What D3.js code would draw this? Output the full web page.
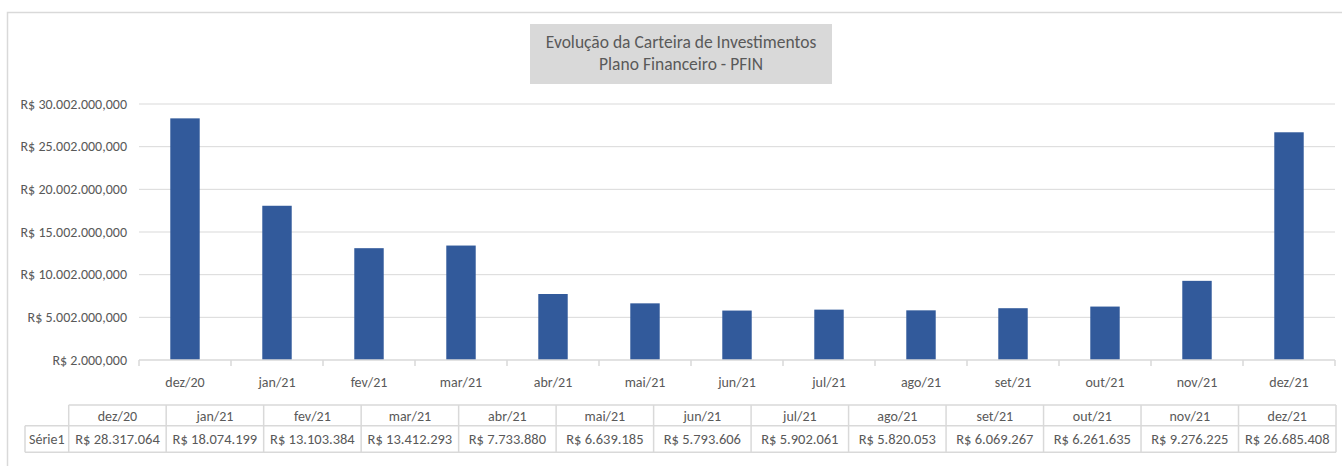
<!DOCTYPE html>
<html>
<head>
<meta charset="utf-8">
<style>
  body { margin: 0; background: #fff; }
  svg text { font-family: Carlito, "Liberation Sans Narrow", Lato, sans-serif; fill: #595959; }
</style>
</head>
<body>
<svg id="chart" width="1342" height="466"></svg>
<script src="https://cdn.jsdelivr.net/npm/d3@7/dist/d3.min.js"></script>
<script>
  // data
  var months = ["dez/20", "jan/21", "fev/21", "mar/21", "abr/21", "mai/21", "jun/21",
    "jul/21", "ago/21", "set/21", "out/21", "nov/21", "dez/21"];
  var values = [28317064, 18074199, 13103384, 13412293, 7733880, 6639185, 5793606,
    5902061, 5820053, 6069267, 6261635, 9276225, 26685408];
  var valueLabels = ["R$ 28.317.064", "R$ 18.074.199", "R$ 13.103.384", "R$ 13.412.293",
    "R$ 7.733.880", "R$ 6.639.185", "R$ 5.793.606", "R$ 5.902.061", "R$ 5.820.053",
    "R$ 6.069.267", "R$ 6.261.635", "R$ 9.276.225", "R$ 26.685.408"];
  var yTicks = [0, 5000000, 10000000, 15000000, 20000000, 25000000, 30000000];
  var yTickLabels = ["R$ 2.000,000", "R$ 5.002.000,000", "R$ 10.002.000,000", "R$ 15.002.000,000",
    "R$ 20.002.000,000", "R$ 25.002.000,000", "R$ 30.002.000,000"];
  var seriesName = "Série1";
  var titleLines = ["Evolução da Carteira de Investimentos", "Plano Financeiro - PFIN"];

  var svg = d3.select("#chart");
  var plot = { left: 139, right: 1335, top: 104, bottom: 360 };

  // chart frame (only top/left edges visible in the picture)
  svg.append("rect")
    .attr("x", 7.5).attr("y", 12.5)
    .attr("width", 1400).attr("height", 470)
    .attr("fill", "none").attr("stroke", "#d9d9d9").attr("stroke-width", 1.5);

  // title box
  svg.append("rect")
    .attr("x", 530).attr("y", 24).attr("width", 302).attr("height", 60)
    .attr("fill", "#d9d9d9");
  svg.selectAll(".title").data(titleLines).enter().append("text")
    .attr("class", "title")
    .attr("x", 681).attr("y", function(d, i) { return 48 + i * 21.5; })
    .attr("text-anchor", "middle")
    .style("font-size", "17.5px")
    .text(function(d) { return d; });

  var x = d3.scaleBand().domain(months)
    .range([plot.left, plot.right]).paddingInner(0.68).paddingOuter(0.34);
  var y = d3.scaleLinear().domain([0, 30000000]).range([plot.bottom, plot.top]);

  // gridlines
  svg.append("g").selectAll("line").data(yTicks.slice(1)).enter().append("line")
    .attr("x1", plot.left).attr("x2", plot.right)
    .attr("y1", function(d) { return y(d); }).attr("y2", function(d) { return y(d); })
    .attr("stroke", "#d9d9d9").attr("stroke-width", 1);

  // y labels
  svg.append("g").selectAll("text").data(yTicks).enter().append("text")
    .attr("x", 127).attr("y", function(d) { return y(d) + 4.5; })
    .attr("text-anchor", "end")
    .style("font-size", "14px")
    .text(function(d, i) { return yTickLabels[i]; });

  // bars
  svg.append("g").selectAll("rect").data(values).enter().append("rect")
    .attr("x", function(d, i) { return x(months[i]); })
    .attr("y", function(d) { return y(d); })
    .attr("width", x.bandwidth())
    .attr("height", function(d) { return y(0) - y(d); })
    .attr("fill", "#325a9b");

  // x axis line and ticks
  var step = x.step();
  svg.append("line")
    .attr("x1", plot.left).attr("x2", plot.right)
    .attr("y1", plot.bottom).attr("y2", plot.bottom)
    .attr("stroke", "#d9d9d9").attr("stroke-width", 1.5);
  svg.append("g").selectAll("line").data(d3.range(months.length + 1)).enter().append("line")
    .attr("x1", function(i) { return plot.left + i * step; })
    .attr("x2", function(i) { return plot.left + i * step; })
    .attr("y1", plot.bottom).attr("y2", plot.bottom + 6)
    .attr("stroke", "#d9d9d9").attr("stroke-width", 1.5);

  svg.append("g").selectAll("text").data(months).enter().append("text")
    .attr("x", function(d) { return x(d) + x.bandwidth() / 2; })
    .attr("y", 387)
    .attr("text-anchor", "middle")
    .style("font-size", "14px")
    .text(function(d) { return d; });

  // data table
  var tLeft = 68.7, tRight = 1336, tTop = 405, tMid = 425.7, tBot = 452.3, keyLeft = 25;
  var colW = (tRight - tLeft) / months.length;
  var table = svg.append("g").attr("stroke", "#d9d9d9").attr("stroke-width", 1.5);
  table.append("line").attr("x1", tLeft).attr("x2", tRight).attr("y1", tTop).attr("y2", tTop);
  table.append("line").attr("x1", keyLeft).attr("x2", tRight).attr("y1", tMid).attr("y2", tMid);
  table.append("line").attr("x1", keyLeft).attr("x2", tRight).attr("y1", tBot).attr("y2", tBot);
  table.append("line").attr("x1", keyLeft).attr("x2", keyLeft).attr("y1", tMid).attr("y2", tBot);
  table.selectAll(".col").data(d3.range(months.length + 1)).enter().append("line")
    .attr("x1", function(i) { return tLeft + i * colW; })
    .attr("x2", function(i) { return tLeft + i * colW; })
    .attr("y1", tTop).attr("y2", tBot);

  svg.append("g").selectAll("text").data(months).enter().append("text")
    .attr("x", function(d, i) { return tLeft + (i + 0.5) * colW; })
    .attr("y", 420.5)
    .attr("text-anchor", "middle")
    .style("font-size", "14px")
    .text(function(d) { return d; });
  svg.append("g").selectAll("text").data(valueLabels).enter().append("text")
    .attr("x", function(d, i) { return tLeft + (i + 0.5) * colW; })
    .attr("y", 444)
    .attr("text-anchor", "middle")
    .style("font-size", "14.5px")
    .text(function(d) { return d; });
  svg.append("text")
    .attr("x", (keyLeft + tLeft) / 2).attr("y", 444)
    .attr("text-anchor", "middle")
    .style("font-size", "14px")
    .text(seriesName);
</script>
</body>
</html>
